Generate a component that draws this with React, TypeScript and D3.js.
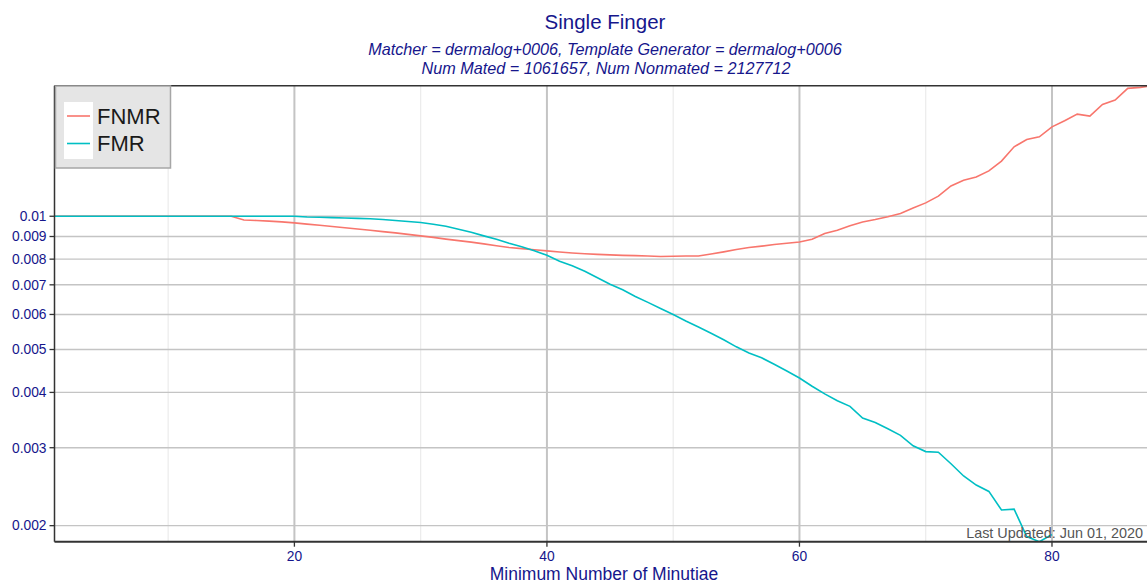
import React from "react";
import * as d3 from "d3";

const minutiae = [1,2,3,4,5,6,7,8,9,10,11,12,13,14,15,16,17,18,19,20,21,22,23,24,25,26,27,28,29,30,31,32,33,34,35,36,37,38,39,40,41,42,43,44,45,46,47,48,49,50,51,52,53,54,55,56,57,58,59,60,61,62,63,64,65,66,67,68,69,70,71,72,73,74,75,76,77,78,79,80,81,82,83,84,85,86,87,88];

const fnmr = [0.01,0.01,0.01,0.01,0.01,0.01,0.01,0.01,0.01,0.01,0.01,0.01,0.01,0.01,0.01,
  0.00981,0.00978,0.00975,0.00971,0.00966,0.00960,0.00954,0.00948,0.00942,0.00936,
  0.00930,0.00923,0.00917,0.00910,0.00903,0.00896,0.00888,0.00881,0.00874,0.00866,
  0.00858,0.00850,0.00845,0.00840,0.00835,0.00830,0.00826,0.00823,0.00820,0.00818,
  0.00816,0.00815,0.00813,0.00811,0.00812,0.00813,0.00813,0.00822,0.00831,0.00841,
  0.00850,0.00856,0.00863,0.00869,0.00875,0.00887,0.00914,0.00930,0.00952,0.00971,
  0.00983,0.00997,0.01014,0.01044,0.01072,0.01110,0.01171,0.01206,0.01227,0.01266,
  0.01332,0.01435,0.01491,0.01512,0.01592,0.01643,0.01701,0.01684,0.01789,0.01830,
  0.01945,0.01955,0.01972];

const fmr = [0.01,0.01,0.01,0.01,0.01,0.01,0.01,0.01,0.01,0.01,0.01,0.01,0.01,0.01,0.01,
  0.01,0.01,0.01,0.01,0.01,0.00996,0.00995,0.00993,0.00991,0.00989,
  0.00987,0.00983,0.00978,0.00973,0.00968,0.00959,0.00949,0.00935,0.00920,0.00903,
  0.00887,0.00869,0.00853,0.00836,0.00816,0.00791,0.00773,0.00751,0.00726,0.00702,
  0.00682,0.00659,0.00639,0.00619,0.00600,0.00580,0.00562,0.00544,0.00526,0.00507,
  0.00491,0.00479,0.00463,0.00447,0.00431,0.00413,0.00397,0.00383,0.00372,0.00350,
  0.00342,0.00331,0.00320,0.00303,0.00294,0.00293,0.00276,0.00259,0.00247,0.00239,
  0.00217,0.00218,0.00189,0.00184,0.00191];

const yTicks = [0.002,0.003,0.004,0.005,0.006,0.007,0.008,0.009,0.01];
const yTickLabels = ["0.002","0.003","0.004","0.005","0.006","0.007","0.008","0.009","0.01"];
const xMajor = [20,40,60,80];
const xMinor = [10,30,50,70];

const seriesNames = ["FNMR","FMR"];
const seriesColors = ["#F8766D","#00BFC4"];

const title = "Single Finger";
const subtitle1 = "Matcher = dermalog+0006, Template Generator = dermalog+0006";
const subtitle2 = "Num Mated = 1061657, Num Nonmated = 2127712";
const xTitle = "Minimum Number of Minutiae";
const note = "Last Updated: Jun 01, 2020";

const W = 1147, H = 584;
const P = { left: 54.5, right: 1153, top: 85.7, bottom: 541.7 };
const FONT = "'Liberation Sans', Arial, Helvetica, sans-serif";
const BLUE = "#16168c";

export default function App() {
  const x = d3.scaleLinear().domain([1, 88]).range([P.left, P.right]);
  const all = [...fnmr, ...fmr];
  const ext = d3.extent(all) as [number, number];
  const y = d3.scaleLog().domain(ext).range([P.bottom, P.top]);

  const fnmrPts = fnmr.map((v, i) => [minutiae[i], v] as [number, number]);
  const fmrPts = fmr.map((v, i) => [minutiae[i], v] as [number, number]);
  const line = d3.line<[number, number]>().x(d => x(d[0])).y(d => y(d[1]));

  return (
    <svg width={W} height={H} style={{ position: "absolute", left: 0, top: 0 }} fontFamily={FONT}>
      <defs>
        <clipPath id="panel">
          <rect x={P.left} y={P.top} width={P.right - P.left} height={P.bottom - P.top} />
        </clipPath>
      </defs>
      <rect x={0} y={0} width={W} height={H} fill="#ffffff" />
      {/* grid */}
      {xMinor.map(v => (
        <line key={"mn" + v} x1={x(v)} x2={x(v)} y1={P.top} y2={P.bottom} stroke="#ebebeb" strokeWidth={1.2} />
      ))}
      {yTicks.map(v => (
        <line key={"gy" + v} x1={P.left} x2={P.right} y1={y(v)} y2={y(v)} stroke="#c4c4c4" strokeWidth={1.4} />
      ))}
      {xMajor.map(v => (
        <line key={"mj" + v} x1={x(v)} x2={x(v)} y1={P.top} y2={P.bottom} stroke="#c4c4c4" strokeWidth={2} />
      ))}
      {/* series */}
      <g clipPath="url(#panel)">
        <path d={line(fnmrPts) || ""} fill="none" stroke={seriesColors[0]} strokeWidth={1.6} />
        <path d={line(fmrPts) || ""} fill="none" stroke={seriesColors[1]} strokeWidth={1.6} />
      </g>
      {/* panel borders */}
      <line x1={P.left} x2={P.right} y1={P.top} y2={P.top} stroke="#333333" strokeWidth={1.5} />
      <line x1={P.left} x2={P.left} y1={P.top} y2={P.bottom} stroke="#333333" strokeWidth={1.5} />
      <line x1={P.left} x2={P.right} y1={P.bottom} y2={P.bottom} stroke="#333333" strokeWidth={2} />
      {/* y ticks */}
      {yTicks.map((v, i) => (
        <g key={"yt" + v}>
          <line x1={P.left - 5} x2={P.left} y1={y(v)} y2={y(v)} stroke="#333333" strokeWidth={1.3} />
          <text x={P.left - 8} y={y(v)} dy="0.35em" textAnchor="end" fontSize={13.8} fill={BLUE}>{yTickLabels[i]}</text>
        </g>
      ))}
      {/* x ticks */}
      {xMajor.map(v => (
        <g key={"xt" + v}>
          <line x1={x(v)} x2={x(v)} y1={P.bottom} y2={P.bottom + 5} stroke="#333333" strokeWidth={1.3} />
          <text x={x(v)} y={P.bottom + 19} textAnchor="middle" fontSize={13.8} fill={BLUE}>{String(v)}</text>
        </g>
      ))}
      {/* annotation */}
      <text x={1143} y={538} textAnchor="end" fontSize={14.4} fill="#555555">{note}</text>
      {/* titles */}
      <text x={605} y={29} textAnchor="middle" fontSize={20.5} fill={BLUE}>{title}</text>
      <text x={605} y={55} textAnchor="middle" fontSize={16.2} fontStyle="italic" fill={BLUE}>{subtitle1}</text>
      <text x={606} y={74} textAnchor="middle" fontSize={16.2} fontStyle="italic" fill={BLUE}>{subtitle2}</text>
      <text x={604} y={580} textAnchor="middle" fontSize={17.5} fill={BLUE}>{xTitle}</text>
      {/* legend */}
      <g>
        <rect x={55.5} y={86} width={115} height={82} fill="#e5e5e5" stroke="#a6a6a6" strokeWidth={1.5} />
        <rect x={64} y={102} width={29} height={57} fill="#ffffff" />
        {seriesNames.map((n, i) => (
          <g key={n}>
            <line x1={67} x2={90} y1={116 + i * 27.5} y2={116 + i * 27.5} stroke={seriesColors[i]} strokeWidth={1.6} />
            <text x={97} y={116 + i * 27.5} dy="0.36em" fontSize={22} fill="#1a1a1a">{n}</text>
          </g>
        ))}
      </g>
    </svg>
  );
}
